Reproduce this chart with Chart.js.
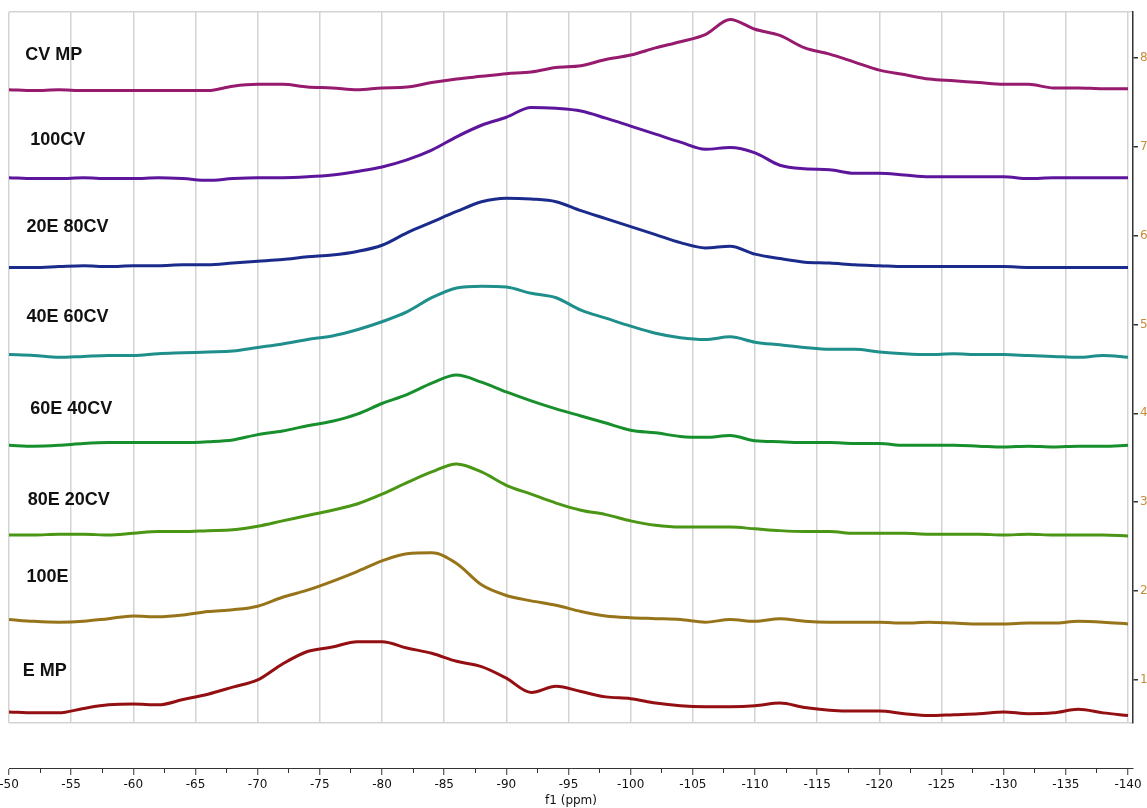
<!DOCTYPE html>
<html><head><meta charset="utf-8">
<script src="https://cdn.jsdelivr.net/npm/chart.js@4/dist/chart.umd.min.js"></script>
<style>html,body{margin:0;padding:0;background:#fff;overflow:hidden}</style>
</head><body>
<canvas id="c" width="1147" height="808"></canvas>
<script>
// chemical shift grid (ppm)
const ppm = [-50,-52,-54,-56,-58,-60,-62,-64,-66,-68,-70,-72,-74,-76,-78,-80,-82,-84,-86,-88,-90,-92,-94,-96,-98,-100,-102,-104,-106,-108,-110,-112,-114,-116,-118,-120,-122,-124,-126,-128,-130,-132,-134,-136,-138,-140];

const cvMP   = [7.64,7.63,7.64,7.63,7.63,7.63,7.63,7.63,7.63,7.68,7.70,7.70,7.67,7.66,7.64,7.66,7.67,7.72,7.76,7.79,7.82,7.84,7.89,7.91,7.98,8.03,8.11,8.18,8.26,8.43,8.32,8.25,8.11,8.04,7.95,7.86,7.81,7.76,7.74,7.72,7.70,7.70,7.66,7.66,7.65,7.65];
const cv100  = [6.65,6.64,6.64,6.65,6.64,6.64,6.65,6.64,6.62,6.64,6.65,6.65,6.66,6.68,6.72,6.77,6.85,6.96,7.11,7.24,7.33,7.44,7.43,7.40,7.32,7.23,7.14,7.05,6.97,6.99,6.93,6.79,6.75,6.74,6.70,6.70,6.68,6.66,6.66,6.66,6.66,6.64,6.65,6.65,6.65,6.65];
const e20cv80 = [5.64,5.64,5.65,5.66,5.65,5.66,5.66,5.67,5.67,5.69,5.71,5.73,5.76,5.78,5.82,5.89,6.03,6.15,6.27,6.38,6.42,6.41,6.38,6.28,6.19,6.10,6.01,5.92,5.86,5.88,5.79,5.74,5.70,5.69,5.67,5.66,5.65,5.65,5.65,5.65,5.65,5.64,5.64,5.64,5.64,5.64];
const e40cv60 = [4.66,4.65,4.63,4.64,4.65,4.65,4.67,4.68,4.69,4.70,4.74,4.78,4.83,4.87,4.94,5.03,5.14,5.30,5.41,5.43,5.42,5.35,5.30,5.16,5.07,4.98,4.90,4.85,4.83,4.86,4.80,4.77,4.74,4.72,4.72,4.69,4.67,4.66,4.67,4.66,4.66,4.65,4.64,4.63,4.65,4.63];
const e60cv40 = [3.64,3.63,3.64,3.66,3.67,3.67,3.67,3.67,3.68,3.70,3.76,3.80,3.86,3.91,3.99,4.11,4.21,4.34,4.43,4.35,4.24,4.14,4.05,3.97,3.89,3.81,3.78,3.74,3.73,3.75,3.69,3.68,3.67,3.67,3.66,3.66,3.64,3.64,3.64,3.63,3.62,3.63,3.62,3.63,3.63,3.64];
const e80cv20 = [2.63,2.63,2.64,2.64,2.63,2.65,2.67,2.67,2.68,2.69,2.73,2.79,2.85,2.91,2.98,3.09,3.22,3.34,3.43,3.34,3.19,3.09,2.99,2.91,2.86,2.79,2.74,2.72,2.72,2.72,2.70,2.68,2.67,2.67,2.65,2.65,2.65,2.64,2.64,2.64,2.63,2.64,2.63,2.63,2.63,2.62];
const e100   = [1.68,1.66,1.65,1.66,1.69,1.72,1.71,1.73,1.77,1.79,1.83,1.93,2.01,2.11,2.22,2.34,2.42,2.43,2.31,2.07,1.95,1.89,1.84,1.77,1.72,1.70,1.69,1.68,1.65,1.68,1.66,1.69,1.66,1.65,1.65,1.65,1.64,1.65,1.64,1.63,1.63,1.64,1.64,1.66,1.65,1.63];
const eMP    = [0.64,0.63,0.63,0.68,0.72,0.73,0.72,0.78,0.84,0.92,1.00,1.18,1.32,1.37,1.43,1.43,1.36,1.30,1.21,1.15,1.02,0.86,0.93,0.87,0.81,0.79,0.74,0.71,0.70,0.70,0.71,0.74,0.69,0.66,0.65,0.65,0.62,0.60,0.61,0.62,0.64,0.62,0.63,0.67,0.63,0.60];

const seriesNames = ['CV MP','100CV','20E 80CV','40E 60CV','60E 40CV','80E 20CV','100E','E MP'];
const seriesValues = [cvMP, cv100, e20cv80, e40cv60, e60cv40, e80cv20, e100, eMP];

const xMajorTicks = [-140,-135,-130,-125,-120,-115,-110,-105,-100,-95,-90,-85,-80,-75,-70,-65,-60,-55,-50];
const xMinorTicks = [-137.5,-132.5,-127.5,-122.5,-117.5,-112.5,-107.5,-102.5,-97.5,-92.5,-87.5,-82.5,-77.5,-72.5,-67.5,-62.5,-57.5,-52.5];
const yTickValues = [1,2,3,4,5,6,7,8];

// styling / layout
const colors = ['#961a6e','#5d169b','#1b2b8c','#1f8f8c','#178f2d','#4b9615','#977419','#940f12'];
const labelPpm = [-51.3,-51.7,-51.4,-51.4,-51.7,-51.5,-51.4,-51.1];
const labelLevel = [8.03,7.07,6.10,5.08,4.05,3.02,2.16,1.10];
const X_MIN = -140.4, X_MAX = -50, Y_MIN = 0.516, Y_MAX = 8.514;
const GRID = '#d3d3d3';
const AXIS_FONT = {family: '"DejaVu Sans", Verdana, sans-serif', size: 12};

const labelPlugin = {
  id: 'seriesLabels',
  afterDatasetsDraw(chart) {
    const {ctx, scales: {x, y}} = chart;
    ctx.save();
    ctx.font = 'bold 18px "Liberation Sans", Arial, sans-serif';
    ctx.fillStyle = '#111';
    ctx.textAlign = 'left';
    ctx.textBaseline = 'middle';
    seriesNames.forEach((n, i) => ctx.fillText(n, x.getPixelForValue(labelPpm[i]), y.getPixelForValue(labelLevel[i])));
    ctx.restore();
  }
};

const isBound = c => c.tick && (c.tick.value === Y_MIN || c.tick.value === Y_MAX);

new Chart(document.getElementById('c'), {
  type: 'line',
  data: {
    datasets: seriesValues.map((vals, i) => ({
      label: seriesNames[i],
      data: ppm.map((p, j) => ({x: p, y: vals[j]})),
      borderColor: colors[i],
      borderWidth: 3,
      pointRadius: 0,
      fill: false,
      cubicInterpolationMode: 'monotone'
    }))
  },
  options: {
    responsive: false,
    animation: false,
    layout: {padding: {left: 9, top: 12, right: 0, bottom: 0}},
    plugins: {
      legend: {display: false},
      tooltip: {enabled: false},
      title: {
        display: true, position: 'bottom', fullSize: false, text: 'f1 (ppm)',
        color: '#111', font: {family: AXIS_FONT.family, size: 12, weight: 'normal'},
        padding: {top: 70.6, bottom: 0}
      }
    },
    scales: {
      x: {
        type: 'linear', axis: 'x', min: X_MIN, max: X_MAX, reverse: true, position: {y: 0},
        afterBuildTicks: s => { s.ticks = xMajorTicks.map(v => ({value: v})); },
        grid: {display: true, drawOnChartArea: true, color: GRID, lineWidth: 1.5, tickLength: 6, tickColor: '#333', tickWidth: 1},
        border: {display: true, color: '#333', width: 1},
        ticks: {color: '#111', font: AXIS_FONT, padding: 3, autoSkip: false, maxRotation: 0, callback: v => String(v)}
      },
      xMinor: {
        type: 'linear', axis: 'x', min: X_MIN, max: X_MAX, reverse: true, position: {y: 0},
        afterBuildTicks: s => { s.ticks = xMinorTicks.map(v => ({value: v})); },
        grid: {display: true, drawOnChartArea: false, tickLength: 4, tickColor: '#333', tickWidth: 1},
        border: {display: false},
        ticks: {display: false}
      },
      y: {
        type: 'linear', position: 'right', min: Y_MIN, max: Y_MAX,
        afterBuildTicks: s => { s.ticks = [Y_MIN, ...yTickValues, Y_MAX].map(v => ({value: v})); },
        afterFit: s => { s.width = 14; },
        grid: {
          display: true, drawOnChartArea: true,
          color: c => isBound(c) ? GRID : 'rgba(0,0,0,0)',
          lineWidth: 1.5, tickLength: 5,
          tickColor: c => isBound(c) ? 'rgba(0,0,0,0)' : '#333', tickWidth: 1.5
        },
        border: {display: true, color: '#333', width: 1.5},
        ticks: {color: '#c98b3a', font: AXIS_FONT, padding: 2, autoSkip: false,
          callback: v => yTickValues.includes(v) ? String(v) : ''}
      }
    }
  },
  plugins: [labelPlugin]
});
</script>
</body></html>
